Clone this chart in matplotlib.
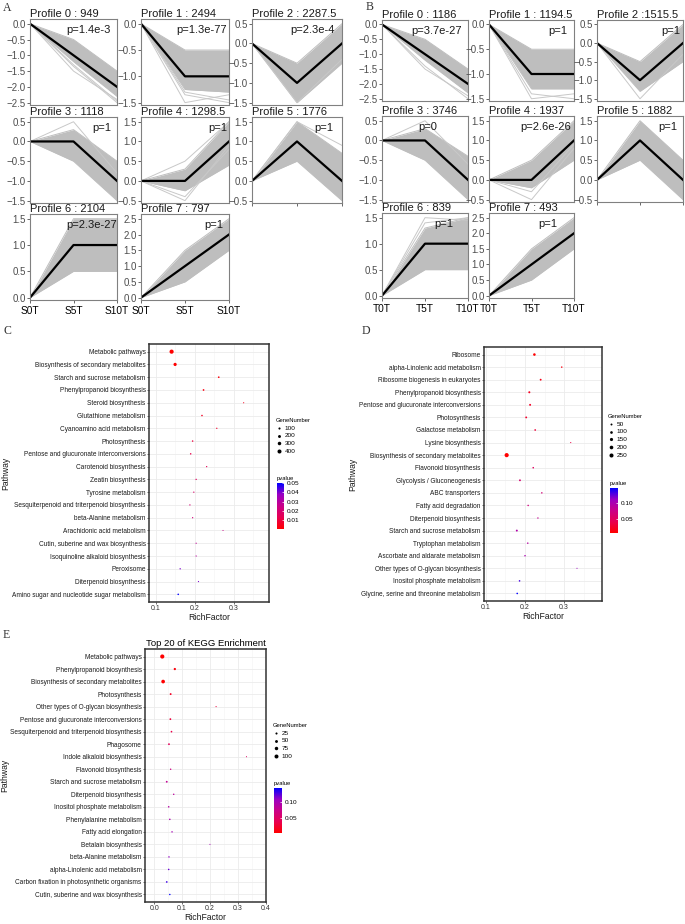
import numpy as np
import matplotlib
matplotlib.use('Agg')
import matplotlib.pyplot as plt
from matplotlib.colors import LinearSegmentedColormap, Normalize
from matplotlib.cm import ScalarMappable

plt.rcParams['font.family'] = ['Liberation Sans', 'DejaVu Sans']

W, H = 685, 924

# ---------------- STEM profiles (panels A and B) ----------------
prof_model = [[0, -1, -2], [0, -1, -1], [0, -1, 0], [0, 0, -1],
              [0, 0, 1], [0, 1, 0], [0, 1, 1], [0, 1, 2]]
prof_yrange = [(-2.5, 0), (-1.5, 0), (-1.5, 0.5), (-1.5, 0.5),
               (-0.5, 1.5), (-0.5, 1.5), (0, 1.5), (0, 2.5)]

a_names = ['Profile 0 : 949', 'Profile 1 : 2494', 'Profile 2 : 2287.5', 'Profile 3 : 1118',
           'Profile 4 : 1298.5', 'Profile 5 : 1776', 'Profile 6 : 2104', 'Profile 7 : 797']
a_pvals = ['p=1.4e-3', 'p=1.3e-77', 'p=2.3e-4', 'p=1', 'p=1', 'p=1', 'p=2.3e-27', 'p=1']
a_upper = [[0, -0.5, -1.5], [0, -0.5, -0.5], [0, -0.5, 0.5], [0, 0.3, -0.5],
           [0, 0.3, 1.5], [0, 1.5, 0.7], [0, 1.5, 1.5], [0, 1.5, 2.5]]
a_lower = [[0, -1.2, -2.3], [0, -1.25, -1.3], [0, -1.5, -0.5], [0, -0.5, -1.5],
           [0, -0.25, 0.4], [0, 0.5, -0.5], [0, 0.5, 0.5], [0, 0.5, 1.5]]
a_extra = [[[0, -1.5, -2.4], [0, -1.35, -2.5], [0, -1.3, -2.45]],
           [[0, -1.5, -1.35], [0, -1.3, -1.45], [0, -1.35, -1.5]],
           [[0, -1.5, -0.4]],
           [[0, 0.5, -0.8]],
           [[0, 0.5, 1.5], [0, -0.5, 0.9], [0, -0.4, 0.8]],
           [[0, 1.5, 0.9]],
           [],
           []]
a_xlabels = ['S0T', 'S5T', 'S10T']

b_names = ['Profile 0 : 1186', 'Profile 1 : 1194.5', 'Profile 2 :1515.5', 'Profile 3 : 3746',
           'Profile 4 : 1937', 'Profile 5 : 1882', 'Profile 6 : 839', 'Profile 7 : 493']
b_pvals = ['p=3.7e-27', 'p=1', 'p=1', 'p=0', 'p=2.6e-26', 'p=1', 'p=1', 'p=1']
b_upper = [[0, -0.5, -1.5], [0, -0.5, -0.5], [0, -0.5, 0.5], [0, 0.3, -0.4],
           [0, 0.5, 1.5], [0, 1.5, 0.5], [0, 1.3, 1.5], [0, 1.5, 2.5]]
b_lower = [[0, -1.2, -2.3], [0, -1.3, -1.3], [0, -1.3, -0.5], [0, -0.5, -1.5],
           [0, -0.2, 0.5], [0, 0.5, -0.5], [0, 0.5, 0.5], [0, 0.5, 1.5]]
b_extra = [[[0, -1.5, -2.4], [0, -1.4, -2.5]],
           [[0, -1.5, -1.4], [0, -1.4, -1.5]],
           [[0, -1.5, -0.3]],
           [[0, 0.5, -0.6]],
           [[0, -0.5, 0.8], [0, -0.3, 0.9]],
           [],
           [[0, 1.5, 1.45], [0, 1.4, 1.5]],
           []]
b_xlabels = ['T0T', 'T5T', 'T10T']

# ---------------- KEGG enrichment (panels C, D, E) ----------------
c_names = ['Metabolic pathways', 'Biosynthesis of secondary metabolites', 'Starch and sucrose metabolism',
           'Phenylpropanoid biosynthesis', 'Steroid biosynthesis', 'Glutathione metabolism',
           'Cyanoamino acid metabolism', 'Photosynthesis', 'Pentose and glucuronate interconversions',
           'Carotenoid biosynthesis', 'Zeatin biosynthesis', 'Tyrosine metabolism',
           'Sesquiterpenoid and triterpenoid biosynthesis', 'beta-Alanine metabolism',
           'Arachidonic acid metabolism', 'Cutin, suberine and wax biosynthesis',
           'Isoquinoline alkaloid biosynthesis', 'Peroxisome', 'Diterpenoid biosynthesis',
           'Amino sugar and nucleotide sugar metabolism']
c_rich = [0.140, 0.149, 0.261, 0.222, 0.325, 0.218, 0.256, 0.194, 0.189, 0.230,
          0.203, 0.197, 0.187, 0.194, 0.272, 0.203, 0.203, 0.162, 0.209, 0.157]
c_genes = [430, 250, 55, 60, 15, 45, 25, 40, 40, 25, 30, 25, 25, 25, 12, 20, 20, 30, 18, 45]
c_pval = [0.0003, 0.0005, 0.002, 0.003, 0.005, 0.006, 0.007, 0.010, 0.012, 0.014,
          0.016, 0.018, 0.020, 0.022, 0.025, 0.028, 0.030, 0.040, 0.040, 0.050]

d_names = ['Ribosome', 'alpha-Linolenic acid metabolism', 'Ribosome biogenesis in eukaryotes',
           'Phenylpropanoid biosynthesis', 'Pentose and glucuronate interconversions', 'Photosynthesis',
           'Galactose metabolism', 'Lysine biosynthesis', 'Biosynthesis of secondary metabolites',
           'Flavonoid biosynthesis', 'Glycolysis / Gluconeogenesis', 'ABC transporters',
           'Fatty acid degradation', 'Diterpenoid biosynthesis', 'Starch and sucrose metabolism',
           'Tryptophan metabolism', 'Ascorbate and aldarate metabolism',
           'Other types of O-glycan biosynthesis', 'Inositol phosphate metabolism',
           'Glycine, serine and threonine metabolism']
d_rich = [0.224, 0.294, 0.240, 0.211, 0.213, 0.203, 0.226, 0.317, 0.153, 0.221,
          0.187, 0.243, 0.208, 0.233, 0.179, 0.207, 0.200, 0.333, 0.186, 0.180]
d_genes = [95, 25, 45, 55, 50, 45, 35, 10, 265, 30, 45, 25, 25, 20, 50, 25, 25, 8, 30, 30]
d_pval = [0.006, 0.012, 0.015, 0.020, 0.022, 0.025, 0.030, 0.035, 0.005, 0.050,
          0.060, 0.065, 0.070, 0.080, 0.095, 0.090, 0.100, 0.110, 0.130, 0.147]

e_names = ['Metabolic pathways', 'Phenylpropanoid biosynthesis', 'Biosynthesis of secondary metabolites',
           'Photosynthesis', 'Other types of O-glycan biosynthesis', 'Pentose and glucuronate interconversions',
           'Sesquiterpenoid and triterpenoid biosynthesis', 'Phagosome', 'Indole alkaloid biosynthesis',
           'Flavonoid biosynthesis', 'Starch and sucrose metabolism', 'Diterpenoid biosynthesis',
           'Inositol phosphate metabolism', 'Phenylalanine metabolism', 'Fatty acid elongation',
           'Betalain biosynthesis', 'beta-Alanine metabolism', 'alpha-Linolenic acid metabolism',
           'Carbon fixation in photosynthetic organisms', 'Cutin, suberine and wax biosynthesis']
e_rich = [0.029, 0.074, 0.032, 0.059, 0.222, 0.058, 0.062, 0.053, 0.331, 0.059,
          0.045, 0.070, 0.052, 0.056, 0.064, 0.200, 0.053, 0.052, 0.045, 0.056]
e_genes = [110, 30, 85, 20, 5, 18, 15, 18, 4, 10, 18, 10, 12, 12, 10, 4, 10, 12, 15, 10]
e_pval = [0.003, 0.008, 0.004, 0.020, 0.030, 0.030, 0.035, 0.045, 0.050, 0.070,
          0.080, 0.085, 0.090, 0.095, 0.100, 0.100, 0.110, 0.120, 0.130, 0.144]

# red -> blue gradient (interpolated in Lab, like ggplot)
cmap = LinearSegmentedColormap.from_list('rb', ['#FF0000', '#E80050', '#CA0088', '#9A00C3', '#0000FF'])
GREY = '#BEBEBE'

fig = plt.figure(figsize=(W / 100, H / 100), dpi=100)


def px_axes(x0, x1, y0, y1):
    return fig.add_axes([x0 / W, 1 - y1 / H, (x1 - x0) / W, (y1 - y0) / H])


def draw_profiles(cols, rows, names, pvals, upper, lower, extra, xlabels, ppos):
    x = np.arange(3)
    for k in range(8):
        r, c = divmod(k, 3)
        ax = px_axes(cols[c][0], cols[c][1], rows[r][0], rows[r][1])
        ax.fill_between(x, lower[k], upper[k], color=GREY, lw=0)
        ax.plot(x, upper[k], color=GREY, lw=0.7)
        ax.plot(x, lower[k], color=GREY, lw=0.7)
        for line in extra[k]:
            ax.plot(x, line, color='#C8C8C8', lw=0.7)
        ax.plot(x, prof_model[k], color='black', lw=1.6)
        lo, hi = prof_yrange[k]
        rng = hi - lo
        ax.set_xlim(0, 2)
        ax.set_ylim(lo - 0.03 * rng, hi + 0.06 * rng)
        ax.set_yticks(np.arange(lo, hi + 0.01, 0.5))
        ax.tick_params(axis='y', labelsize=7, colors='#4D4D4D', length=2, width=0.6, pad=1)
        ax.set_xticks([0, 1, 2])
        if r == 2:
            ax.set_xticklabels(xlabels)
            ax.tick_params(axis='x', labelsize=7.3, length=2.5, width=0.6, color='#4D4D4D', pad=2)
        elif k == 5:
            ax.set_xticklabels([])
            ax.tick_params(axis='x', length=2.5, width=0.6, color='#4D4D4D')
        else:
            ax.tick_params(axis='x', length=0, labelbottom=False)
        for s in ax.spines.values():
            s.set_color('#808080')
            s.set_linewidth(0.8)
        ax.set_title(names[k], loc='left', fontsize=8, pad=0.5, color='#1A1A1A')
        ax.text(ppos[k], 0.87, pvals[k], transform=ax.transAxes, ha='right', va='center',
                fontsize=8, color='#1A1A1A')


def size_of(g, genes):
    lo, hi = min(genes), max(genes)
    return np.clip(0.6 + 8.4 * (np.asarray(g, dtype=float) - lo) / (hi - lo), 0.3, None)


def draw_kegg(box, names, rich, genes, pvals, xlim, xticks, xminor, xfmt,
              levels, leg_xy, cbar_box, cticks, title=None):
    ax = px_axes(*box)
    n = len(names)
    y = np.arange(n)[::-1]
    norm = Normalize(min(pvals), max(pvals))
    ax.scatter(rich, y, s=size_of(genes, genes), c=pvals, cmap=cmap, norm=norm, lw=0, zorder=3)
    ax.set_yticks(y)
    ax.set_yticklabels(names)
    ax.set_ylim(-0.6, n - 0.4)
    ax.set_xlim(*xlim)
    ax.set_xticks(xticks)
    ax.set_xticklabels([xfmt.format(v) for v in xticks])
    ax.set_xticks(xminor, minor=True)
    ax.tick_params(which='minor', length=0)
    ax.grid(which='major', color='#EBEBEB', lw=0.6)
    ax.grid(which='minor', axis='x', color='#F3F3F3', lw=0.4)
    ax.set_axisbelow(True)
    ax.tick_params(axis='y', labelsize=4.7, length=1.5, width=0.5, color='#333333', pad=1, labelcolor='#1A1A1A')
    ax.tick_params(axis='x', labelsize=5, length=1.5, width=0.5, color='#333333', pad=0.8, labelcolor='#333333')
    for s in ax.spines.values():
        s.set_color('#333333')
        s.set_linewidth(1.1)
    ax.set_xlabel('RichFactor', fontsize=6.2, labelpad=0.3, color='#1A1A1A')
    ax.set_ylabel('Pathway', fontsize=6.2, labelpad=1, color='#1A1A1A')
    if title:
        ax.set_title(title, fontsize=6.8, pad=2.5)

    handles = [ax.scatter([], [], s=size_of(v, genes), color='black', lw=0) for v in levels]
    ax.legend(handles, [str(v) for v in levels], title='GeneNumber', loc='upper left',
              bbox_to_anchor=(leg_xy[0] / W, 1 - leg_xy[1] / H), bbox_transform=fig.transFigure,
              frameon=False, fontsize=4.6, title_fontsize=4.2, labelspacing=0.35,
              handletextpad=0.6, handlelength=0.8, borderpad=0, borderaxespad=0, alignment='left')

    cax = px_axes(*cbar_box)
    cb = fig.colorbar(ScalarMappable(norm=norm, cmap=cmap), cax=cax, ticks=cticks)
    cb.outline.set_visible(False)
    cb.set_ticklabels(['{:.2f}'.format(t) for t in cticks])
    cax.tick_params(labelsize=4.6, length=1.5, width=0.5, color='white', direction='in', pad=2)
    cax.set_title('pvalue', fontsize=4.2, loc='left', pad=2)


draw_profiles([(30, 117), (141, 229), (252, 342)], [(19, 105), (117, 203), (214, 300)],
              a_names, a_pvals, a_upper, a_lower, a_extra, a_xlabels,
              [0.93, 0.98, 0.92, 0.93, 0.98, 0.9, 1.0, 0.93])
draw_profiles([(382, 468), (489, 574), (597, 683)], [(20, 101), (116, 202), (213, 298)],
              b_names, b_pvals, b_upper, b_lower, b_extra, b_xlabels,
              [0.93, 0.92, 0.97, 0.64, 0.97, 0.93, 0.83, 0.8])

draw_kegg((149, 269, 344, 602), c_names, c_rich, c_genes, c_pval,
          (0.082, 0.39), [0.1, 0.2, 0.3], [0.15, 0.25, 0.35], '{:.1f}',
          [100, 200, 300, 400], (276, 418), (277, 284, 483, 529),
          [0.01, 0.02, 0.03, 0.04, 0.05])
draw_kegg((484, 602, 347, 601), d_names, d_rich, d_genes, d_pval,
          (0.095, 0.397), [0.1, 0.2, 0.3], [0.15, 0.25, 0.35], '{:.1f}',
          [50, 100, 150, 200, 250], (608, 414), (610, 618, 488, 533), [0.05, 0.10])
draw_kegg((145, 266, 649, 902), e_names, e_rich, e_genes, e_pval,
          (-0.033, 0.401), [0.0, 0.1, 0.2, 0.3, 0.4], [0.05, 0.15, 0.25, 0.35], '{:.1f}',
          [25, 50, 75, 100], (273, 723), (274, 282, 788, 833), [0.05, 0.10],
          title='Top 20 of KEGG Enrichment')

# panel letters
for letter, (lx, ly) in zip('ABCDE', [(3, 2), (366, 1), (4, 325), (362, 325), (3, 629)]):
    fig.text(lx / W, 1 - ly / H, letter, family='Liberation Serif', fontsize=8.5,
             ha='left', va='top', color='#333333')

fig.savefig('out.png', dpi=100)
